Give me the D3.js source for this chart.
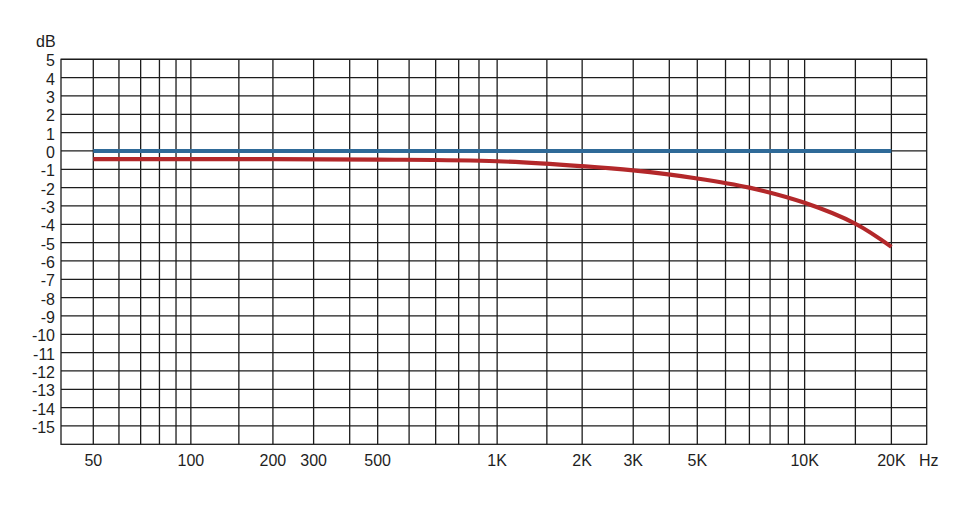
<!DOCTYPE html>
<html>
<head>
<meta charset="utf-8">
<script src="https://cdn.jsdelivr.net/npm/d3@7"></script>
<style>
  html, body { margin: 0; padding: 0; background: #fff; }
  svg { display: block; }
  text { font-family: "Liberation Sans", Arial, Helvetica, sans-serif; fill: #1e1e1e; }
</style>
</head>
<body>
<svg id="chart" width="978" height="509"></svg>
<script>
// ---- data ----
const freqs = [50, 100, 200, 500, 1000, 2000, 3000, 5000, 7000, 10000, 15000, 20000];
const flatResponse = [0, 0, 0, 0, 0, 0, 0, 0, 0, 0, 0, 0];
const rolloffResponse = [-0.45, -0.45, -0.45, -0.47, -0.56, -0.83, -1.06, -1.5, -2.0, -2.83, -3.97, -5.23];
const xTickValues = [50, 100, 200, 300, 500, 1000, 2000, 3000, 5000, 10000, 20000];
const xTickLabels = ["50", "100", "200", "300", "500", "1K", "2K", "3K", "5K", "10K", "20K"];
const xGridValues = [50, 60, 70, 80, 90, 100, 150, 200, 300, 400, 500, 600, 700, 800, 900, 1000, 1500, 2000, 3000, 4000, 5000, 6000, 7000, 8000, 9000, 10000, 15000, 20000];
const yTickValues = [5, 4, 3, 2, 1, 0, -1, -2, -3, -4, -5, -6, -7, -8, -9, -10, -11, -12, -13, -14, -15];
const yDomain = [-16, 5];
const xDomainEdges = [40, 26700];

(function () {
// ---- layout ----
const mLeft = 61, mRight = 926.7, mTop = 59.3, mBottom = 444.3;
// the printed frequency axis is a log scale with slightly uneven decades;
// anchor positions (fractions of plot width) reproduce it segment by segment
const anchorFreqs = [xDomainEdges[0], 50, 100, 200, 300, 500, 1000, 2000, 3000, 5000, 10000, 20000, xDomainEdges[1]];
const anchorPos = [0, 0.0373, 0.1500, 0.2448, 0.2918, 0.3658, 0.5038, 0.6020, 0.6610, 0.7350, 0.8590, 0.9592, 1];

const svg = d3.select("#chart");
const x = d3.scaleLog()
  .domain(anchorFreqs)
  .range(anchorPos.map(p => mLeft + p * (mRight - mLeft)));
const y = d3.scaleLinear().domain(yDomain).range([mBottom, mTop]);

const grid = svg.append("g").attr("stroke", "#1c1c1c").attr("stroke-width", 1.3).attr("fill", "none");
grid.selectAll("line.h").data(yTickValues).join("line")
  .attr("x1", mLeft).attr("x2", mRight)
  .attr("y1", d => y(d)).attr("y2", d => y(d));
grid.selectAll("line.v").data(xGridValues).join("line")
  .attr("y1", mTop).attr("y2", mBottom)
  .attr("x1", d => x(d)).attr("x2", d => x(d));
grid.append("rect")
  .attr("x", mLeft).attr("y", mTop)
  .attr("width", mRight - mLeft).attr("height", mBottom - mTop);

svg.append("g").selectAll("text").data(yTickValues).join("text")
  .attr("x", 55).attr("y", d => y(d) + 1.5)
  .attr("text-anchor", "end").attr("dominant-baseline", "central")
  .attr("font-size", 16)
  .text(d => String(d));
svg.append("text").attr("x", 36).attr("y", 47).attr("font-size", 16).text("dB");

svg.append("g").selectAll("text").data(xTickValues).join("text")
  .attr("x", d => x(d)).attr("y", 466)
  .attr("text-anchor", "middle").attr("font-size", 16)
  .text((d, i) => xTickLabels[i]);
svg.append("text").attr("x", 919).attr("y", 466).attr("font-size", 16).text("Hz");

const line = d3.line().x(d => x(d[0])).y(d => y(d[1])).curve(d3.curveCatmullRom.alpha(0.5));
svg.append("path")
  .datum(freqs.map((f, i) => [f, flatResponse[i]]))
  .attr("d", line).attr("fill", "none")
  .attr("stroke", "#2f6a98").attr("stroke-width", 4);
svg.append("path")
  .datum(freqs.map((f, i) => [f, rolloffResponse[i]]))
  .attr("d", line).attr("fill", "none")
  .attr("stroke", "#b3282a").attr("stroke-width", 4.2);
})();
</script>
</body>
</html>
